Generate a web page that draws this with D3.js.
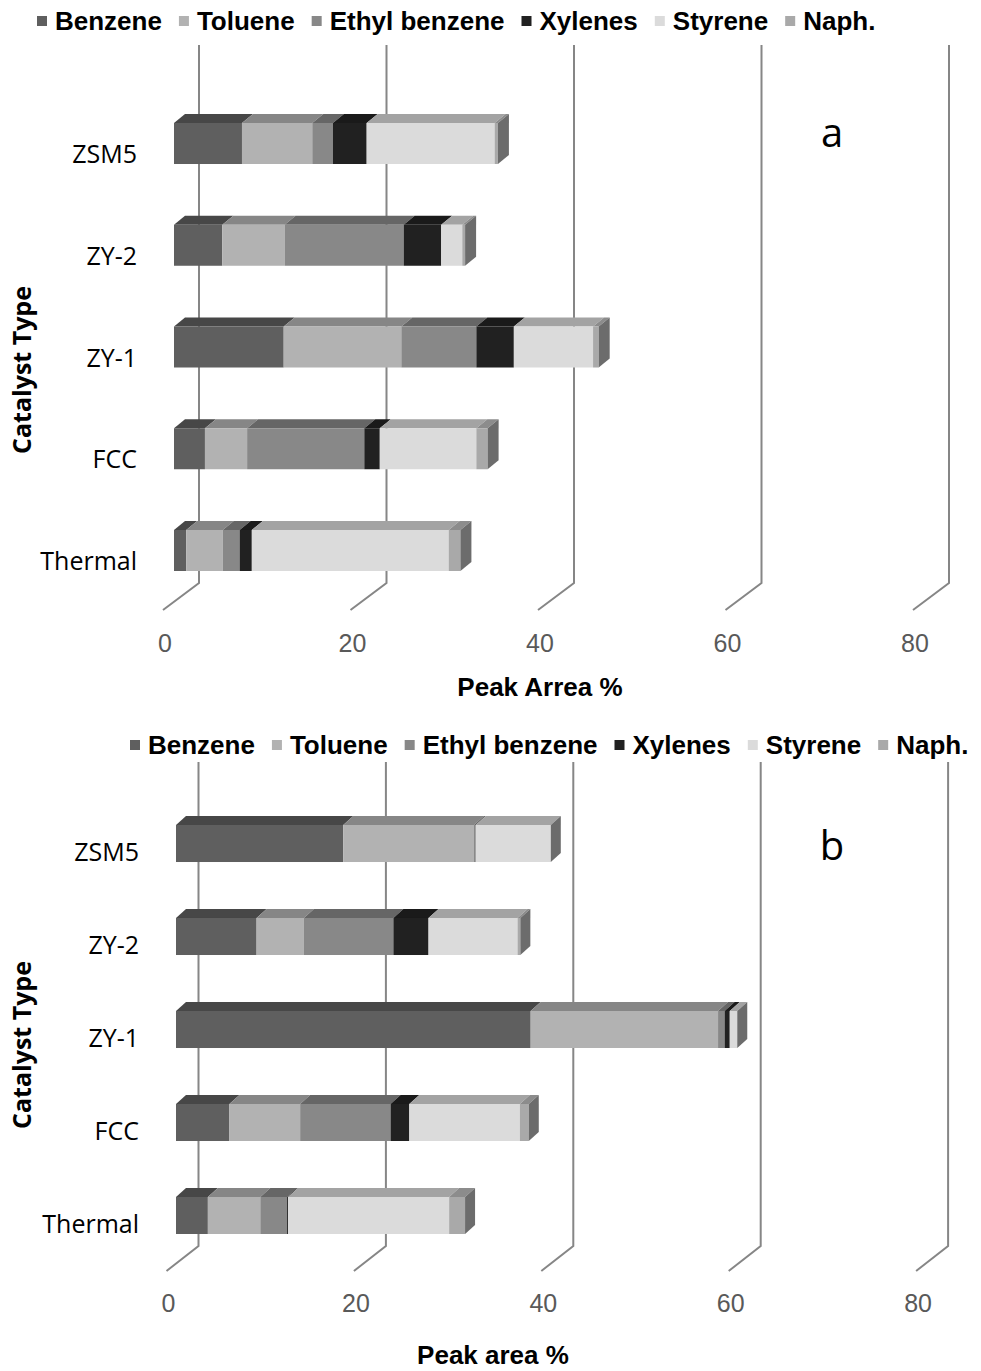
<!DOCTYPE html>
<html>
<head>
<meta charset="utf-8">
<script src="https://cdn.jsdelivr.net/npm/d3@7/dist/d3.min.js"></script>
<style>
  html, body { margin: 0; padding: 0; background: #ffffff; }
  svg { display: block; }
</style>
</head>
<body>
<svg id="chart" width="981" height="1371"></svg>
<script>
// ---- data ----------------------------------------------------------------
const catalysts = ["ZSM5", "ZY-2", "ZY-1", "FCC", "Thermal"];
const seriesNames = ["Benzene", "Toluene", "Ethyl benzene", "Xylenes", "Styrene", "Naph."];
const xTicks = [0, 20, 40, 60, 80];

// panel a (values in catalyst order)
const benzeneA  = [7.25, 5.15, 11.7, 3.3, 1.3];
const tolueneA  = [7.5, 6.65, 12.55, 4.5, 3.9];
const ethylA    = [2.2, 12.7, 8.0, 12.5, 1.8];
const xylenesA  = [3.6, 4.0, 4.0, 1.65, 1.3];
const styreneA  = [13.65, 2.25, 8.45, 10.3, 21.0];
const naphA     = [0.35, 0.3, 0.6, 1.2, 1.25];

// panel b
const benzeneB  = [17.85, 8.6, 37.85, 5.7, 3.4];
const tolueneB  = [13.95, 5.05, 20.0, 7.55, 5.6];
const ethylB    = [0.2, 9.55, 0.7, 9.65, 2.85];
const xylenesB  = [0.0, 3.75, 0.55, 2.0, 0.1];
const styreneB  = [8.0, 9.5, 0.8, 11.8, 17.2];
const naphB     = [0.0, 0.3, 0.0, 0.95, 1.7];

// ---- styling -------------------------------------------------------------
const frontColors = ["#5f5f5f", "#b2b2b2", "#888888", "#212121", "#dbdbdb", "#a9a9a9"];
const topColors   = ["#474747", "#868686", "#666666", "#1a1a1a", "#a3a3a3", "#8c8c8c"];
const sideColor   = "#6c6c6c";
const gridColor   = "#868686";

const svg = d3.select("#chart");

function drawPanel(cfg) {
  const g = svg.append("g");
  const series = cfg.series;

  // stacked values per catalyst
  const rows = catalysts.map((c, i) => {
    let acc = 0;
    const segs = series.map((s, k) => {
      const x0 = acc; acc += s[i];
      return { k, x0, x1: acc };
    });
    return { cat: c, segs, total: acc };
  });

  // x scales for back wall, bar front face and front floor
  const xBack  = d3.scaleLinear().domain([0, 80]).range([cfg.backX0, cfg.backX0 + cfg.unit * 80]);
  const xBar   = xBack.copy().range(xBack.range().map(v => v - cfg.barShift));
  const xFloor = xBack.copy().range(xBack.range().map(v => v - cfg.floorDx));

  const y = d3.scaleBand().domain(catalysts)
    .range([cfg.barTop, cfg.barBottom])
    .paddingInner(cfg.pad).paddingOuter(0);
  const bw = y.bandwidth();

  // legend
  const leg = g.append("g");
  let lx = cfg.legendX;
  seriesNames.forEach((name, k) => {
    leg.append("rect").attr("x", lx).attr("y", cfg.legendY - 5)
      .attr("width", 10).attr("height", 10).attr("fill", frontColors[k]);
    const t = leg.append("text").attr("x", lx + 18).attr("y", cfg.legendY + 9)
      .attr("font-family", "Liberation Sans, Arial, sans-serif")
      .attr("font-weight", "bold").attr("font-size", 26).attr("fill", "#000")
      .text(name);
    lx += 18 + t.node().getComputedTextLength() + 17;
  });

  // gridlines on back wall with floor diagonals
  xTicks.forEach(v => {
    g.append("path")
      .attr("d", `M${xBack(v)},${cfg.gridTop} L${xBack(v)},${cfg.floorBackY} L${xFloor(v)},${cfg.floorBackY + cfg.floorDy}`)
      .attr("fill", "none").attr("stroke", gridColor).attr("stroke-width", 2);
  });

  // tick labels
  g.selectAll(".tick").data(xTicks).enter().append("text")
    .attr("x", d => xFloor(d) + 2).attr("y", cfg.tickY)
    .attr("text-anchor", "middle")
    .attr("font-family", "Liberation Sans, Arial, sans-serif")
    .attr("font-size", 25).attr("fill", "#595959")
    .text(d => d);

  // bars
  const dx = cfg.barDx, dy = cfg.barDy;
  rows.forEach(r => {
    const top = y(r.cat), bot = top + bw;
    const bg = g.append("g");
    r.segs.forEach(s => {
      const a = xBar(s.x0), b = xBar(s.x1);
      if (b - a > 0) {
        bg.append("polygon")
          .attr("points", `${a},${top} ${a + dx},${top - dy} ${b + dx},${top - dy} ${b},${top}`)
          .attr("fill", topColors[s.k]);
        bg.append("rect").attr("x", a).attr("y", top)
          .attr("width", b - a).attr("height", bw).attr("fill", frontColors[s.k]);
      }
    });
    const e = xBar(r.total);
    bg.append("polygon")
      .attr("points", `${e},${top} ${e + dx},${top - dy} ${e + dx},${bot - dy} ${e},${bot}`)
      .attr("fill", sideColor);
  });

  // category labels
  g.selectAll(".cat").data(catalysts).enter().append("text")
    .attr("x", cfg.catX).attr("y", d => y(d) + bw - 1)
    .attr("text-anchor", "end")
    .attr("font-family", "Open Sans, Noto Sans, sans-serif")
    .attr("font-size", 25).attr("fill", "#000")
    .text(d => d);

  // axis titles
  g.append("text")
    .attr("transform", `translate(${cfg.yTitleX},${cfg.yTitleY}) rotate(-90)`)
    .attr("text-anchor", "middle")
    .attr("font-family", "Open Sans, Noto Sans, sans-serif")
    .attr("font-weight", "bold").attr("font-size", 25).attr("fill", "#000")
    .text("Catalyst Type");

  g.append("text")
    .attr("x", cfg.xTitleX).attr("y", cfg.xTitleY)
    .attr("text-anchor", "middle")
    .attr("font-family", "Liberation Sans, Arial, sans-serif")
    .attr("font-weight", "bold").attr("font-size", 26).attr("fill", "#000")
    .text(cfg.xTitle);

  // panel letter
  g.append("text")
    .attr("x", cfg.letterX).attr("y", cfg.letterY)
    .attr("text-anchor", "middle")
    .attr("font-family", "Open Sans, Noto Sans, sans-serif")
    .attr("font-size", 40).attr("fill", "#000")
    .text(cfg.letter);
}

drawPanel({
  series: [benzeneA, tolueneA, ethylA, xylenesA, styreneA, naphA],
  backX0: 199, unit: 9.375, barShift: 25, floorDx: 36, floorDy: 27,
  gridTop: 45, floorBackY: 583, tickY: 652,
  barTop: 123, barBottom: 571, pad: 0.597, barDx: 11, barDy: 9,
  legendX: 37, legendY: 21,
  catX: 137, yTitleX: 31, yTitleY: 370,
  xTitle: "Peak Arrea %", xTitleX: 540, xTitleY: 696,
  letter: "a", letterX: 832, letterY: 147
});

drawPanel({
  series: [benzeneB, tolueneB, ethylB, xylenesB, styreneB, naphB],
  backX0: 198.5, unit: 9.37, barShift: 22.5, floorDx: 32, floorDy: 25,
  gridTop: 762, floorBackY: 1246, tickY: 1312,
  barTop: 825, barBottom: 1234, pad: 0.602, barDx: 10, barDy: 9,
  legendX: 130, legendY: 745,
  catX: 139, yTitleX: 31, yTitleY: 1045,
  xTitle: "Peak area %", xTitleX: 493, xTitleY: 1364,
  letter: "b", letterX: 832, letterY: 860
});
</script>
</body>
</html>
